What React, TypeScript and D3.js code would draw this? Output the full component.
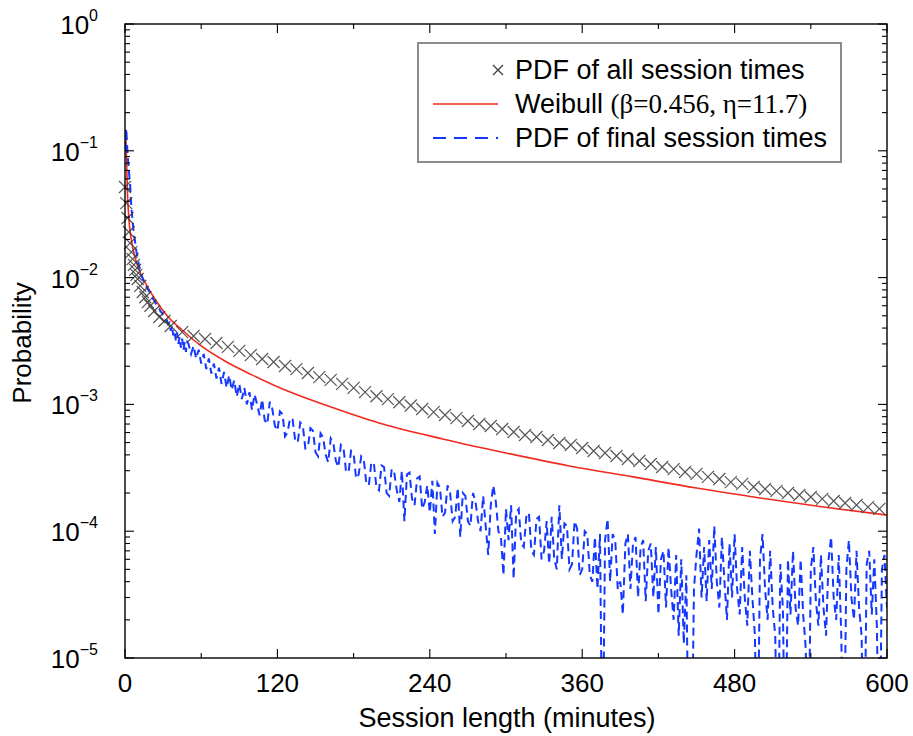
import React from 'react';
import * as d3 from 'd3';

// ---------- data ----------
const xTickValues = [0, 120, 240, 360, 480, 600];
const xMinorTickValues = [60, 180, 300, 420, 540];
const yDecadeExponents = [0, -1, -2, -3, -4, -5];

// PDF of all session times (black crosses)
const allMinutes = [0, 1, 2, 3, 4, 5, 6, 7, 8, 9, 10, 12, 14, 16, 18, 20, 23, 27, 31, 36,
  45, 54, 63, 72, 81, 90, 99, 108, 117, 126, 135, 144, 153, 162, 171, 180, 189, 198, 207, 216,
  225, 234, 243, 252, 261, 270, 279, 288, 297, 306, 315, 324, 333, 342, 351, 360, 369, 378, 387,
  396, 405, 414, 423, 432, 441, 450, 459, 468, 477, 486, 495, 504, 513, 522, 531, 540, 549, 558,
  567, 576, 585, 594];
const allPdf = [0.0518, 0.0387, 0.0295, 0.0229, 0.0187, 0.0159, 0.0140, 0.0126, 0.0115, 0.0105,
  0.00975, 0.0086, 0.0077, 0.0070, 0.0064, 0.0060, 0.00545, 0.00489, 0.00455, 0.00415,
  0.00372, 0.00346, 0.00328, 0.00305, 0.00284, 0.00264, 0.00245, 0.00228, 0.00216, 0.00201,
  0.00190, 0.00177, 0.00164, 0.00156, 0.00145, 0.00135, 0.00125, 0.00116, 0.00110, 0.00104,
  0.00098, 0.00092, 0.00087, 0.000825, 0.00078, 0.00074, 0.00070,
  0.000676, 0.00064, 0.000606, 0.000574, 0.000553, 0.000524, 0.000496, 0.000478, 0.000453,
  0.000429, 0.000414, 0.000392, 0.000371, 0.000358, 0.000339, 0.000321, 0.000309, 0.000293,
  0.000283, 0.000268, 0.000258, 0.000244, 0.000236, 0.000223, 0.000215, 0.000208, 0.000200,
  0.000193, 0.000186, 0.000180, 0.000173, 0.000167, 0.000161, 0.000155, 0.000150];

// Weibull fit (red line)
const weibullMinutes = [0.5, 1, 2, 3, 5, 8, 12, 16, 24, 34, 45, 60, 80, 100, 130, 160, 200, 250,
  300, 350, 400, 450, 500, 550, 600];
const weibullPdf = [0.14, 0.1, 0.0448, 0.0295, 0.0198, 0.0143, 0.0109, 0.00907, 0.00666, 0.00489,
  0.00386, 0.00289, 0.00216, 0.00171, 0.00125, 0.00097, 0.000713, 0.000534, 0.000414, 0.000327,
  0.000268, 0.000219, 0.000183, 0.000155, 0.000134];

// PDF of final session times (blue dashed), minutes 0..49 every minute
const finalEarlyPdf = [0.10, 0.15, 0.095, 0.07, 0.055, 0.036, 0.028, 0.022, 0.019, 0.016,
  0.0142, 0.0125, 0.0114, 0.0105, 0.0098, 0.0092, 0.0088, 0.0084, 0.0081, 0.0078,
  0.0075, 0.0072, 0.0068, 0.0066, 0.0063, 0.0061, 0.0058, 0.0057, 0.0054, 0.0053,
  0.0050, 0.0049, 0.0046, 0.0046, 0.0043, 0.0044, 0.0038, 0.0042, 0.0035, 0.0038,
  0.0032, 0.0037, 0.0030, 0.0034, 0.0028, 0.0033, 0.0027, 0.0031, 0.0026, 0.0031];
// minutes 50..600 every 2 minutes, in units of 1e-4 (0 = empty bin)
const finalLatePdfE4 = [
  // 50-98
  30, 25, 29, 23, 27, 21, 25, 19, 23, 17.5,
  21, 16, 19.5, 14.5, 18, 13.5, 17, 13, 15.5, 11.5,
  14.5, 11, 13.5, 10, 12.5,
  // 100-200
  9.0, 12, 10, 8.2, 11, 7.5, 7.0, 10.5, 9.2, 6.8,
  6.2, 8.8, 8.4, 5.6, 6.0, 7.8, 7.6, 5.2, 5.0, 7.2,
  6.8, 4.5, 4.6, 6.5, 6.2, 4.2, 3.9, 5.9, 5.5, 4.0,
  3.5, 5.4, 5.0, 3.6, 3.2, 4.8, 4.6, 3.0, 2.9, 4.3,
  4.1, 2.6, 2.8, 3.9, 3.7, 2.4, 2.3, 3.5, 3.4, 2.2,
  2.1,
  // 202-300
  3.3, 3.2, 2.0, 1.9, 3.1, 2.9, 2.1, 1.7, 3.0, 1.2,
  2.8, 2.9, 1.8, 1.6, 2.6, 2.7, 1.5, 1.7, 2.3, 1.4,
  2.5, 0.95, 2.4, 2.2, 1.3, 1.4, 2.3, 2.0, 1.2, 1.3,
  2.2, 0.9, 2.0, 1.9, 1.2, 1.1, 2.0, 1.7, 1.2, 1.0,
  1.9, 1.1, 0.65, 1.6, 2.3, 1.7, 1.0, 0.9, 0.45, 1.5,
  // 302-400
  0.85, 1.6, 0.42, 1.4, 1.5, 0.8, 0.75, 1.3, 1.4, 0.7,
  0.65, 1.25, 1.3, 0.6, 0.7, 1.2, 0.55, 1.3, 0.6, 0.5,
  1.6, 0.6, 1.15, 1.1, 0.5, 0.55, 1.2, 1.05, 0.45, 0.5,
  1.0, 0.95, 0.45, 0.4, 0.9, 0.35, 0.95, 0, 0.85, 1.25,
  0.4, 0.95, 0.85, 0.35, 0.4, 0.22, 0.8, 0.95, 0.35, 0.8,
  // 402-500
  0.9, 0.3, 0.75, 0.85, 0.28, 0.7, 0.8, 0.3, 0.75, 0.22,
  0.6, 0.7, 0.25, 0.75, 0.35, 0.2, 0.65, 0.15, 0.6, 0.13,
  0.45, 0, 0, 0.35, 0.65, 1.05, 0.3, 0.75, 0.28, 0.85,
  0.35, 1.1, 0.4, 0.25, 0.9, 0.4, 0.2, 0.8, 0.3, 0.95,
  0.35, 0.22, 0.75, 0.3, 0.18, 0.7, 0.3, 0.15, 0, 0.6,
  // 502-600
  0.95, 0.35, 0.2, 0.7, 0.25, 0.15, 0, 0.55, 0.25, 0,
  0.6, 0.22, 0.7, 0.25, 0.18, 0.6, 0.22, 0.12, 0, 0.5,
  0.75, 0.28, 0.18, 0.65, 0.25, 0.15, 0.6, 0.9, 0.3, 0.2,
  0.65, 0.15, 0, 0.5, 0.85, 0.3, 0.2, 0.7, 0.25, 0.15,
  0, 0.55, 0.7, 0.22, 0.6, 0.18, 0, 0.5, 0.65, 0.25];

const legendLabels = ['PDF of all session times', 'Weibull ', '(β=0.456, η=11.7)', 'PDF of final session times'];

// ---------- layout ----------
const W = 913;
const H = 736;
const L = 125, T = 24, R = 887, B = 658;
const SANS = "'Liberation Sans', Arial, Helvetica, sans-serif";
const SERIF = "'Liberation Serif', 'Times New Roman', serif";
const BLUE = '#1438ff';
const RED = '#f02a1e';
const CROSS = '#3a3a3a';

export default function App() {
  const x = d3.scaleLinear().domain([0, 600]).range([L, R]);
  const y = d3.scaleLog().domain([1e-5, 1]).range([B, T]);
  const yv = (p: number) => (p > 0 ? y(p) : y(1e-6));

  const earlyMinutes = d3.range(0, finalEarlyPdf.length);
  const lateMinutes = d3.range(50, 601, 2);
  const finalPts: [number, number][] = [];
  earlyMinutes.forEach((m, i) => finalPts.push([m, finalEarlyPdf[i]]));
  const nLate = Math.min(lateMinutes.length, finalLatePdfE4.length);
  for (let i = 0; i < nLate; i++) finalPts.push([lateMinutes[i], finalLatePdfE4[i] * 1e-4]);

  const blueLine = d3.line<[number, number]>().x(d => x(d[0])).y(d => yv(d[1]));
  const redPts: [number, number][] = weibullMinutes.map((m, i) => [m, weibullPdf[i]]);
  const redLine = d3.line<[number, number]>().x(d => x(d[0])).y(d => y(d[1])).curve(d3.curveMonotoneX);

  const cs = 6;
  const crossPath = (cx: number, cy: number, s: number = cs) =>
    `M${cx - s},${cy - s}L${cx + s},${cy + s}M${cx - s},${cy + s}L${cx + s},${cy - s}`;

  const majorY = yDecadeExponents.map(e => Math.pow(10, e));
  const minorY: number[] = [];
  for (let e = -5; e < 0; e++) for (let m = 2; m <= 9; m++) minorY.push(m * Math.pow(10, e));

  const tickStroke = { stroke: '#000', strokeWidth: 1.1 };

  return (
    <svg width={W} height={H} style={{ position: 'absolute', left: 0, top: 0, background: '#fff' }}>
      <defs>
        <clipPath id="plotclip">
          <rect x={L} y={T} width={R - L} height={B - T} />
        </clipPath>
      </defs>
      <rect x={0} y={0} width={W} height={H} fill="#fff" />

      <g clipPath="url(#plotclip)">
        <path d={redLine(redPts) || ''} fill="none" stroke={RED} strokeWidth={1.6} />
        <path d={blueLine(finalPts) || ''} fill="none" stroke={BLUE} strokeWidth={2}
          strokeDasharray="8,5" />
      </g>
      <g>
        {allMinutes.map((m, i) => (
          <path key={i} d={crossPath(x(m), y(allPdf[i]))} stroke={CROSS} strokeWidth={1.2} fill="none" opacity={0.85} />
        ))}
      </g>

      <rect x={L} y={T} width={R - L} height={B - T} fill="none" stroke="#000" strokeWidth={1.4} />

      {majorY.map((v, i) => (
        <g key={'ym' + i}>
          <line x1={L} x2={L + 9} y1={y(v)} y2={y(v)} {...tickStroke} />
          <line x1={R} x2={R - 9} y1={y(v)} y2={y(v)} {...tickStroke} />
        </g>
      ))}
      {minorY.map((v, i) => (
        <g key={'yn' + i}>
          <line x1={L} x2={L + 5} y1={y(v)} y2={y(v)} {...tickStroke} />
          <line x1={R} x2={R - 5} y1={y(v)} y2={y(v)} {...tickStroke} />
        </g>
      ))}
      {xTickValues.map((v, i) => (
        <g key={'xm' + i}>
          <line x1={x(v)} x2={x(v)} y1={B} y2={B - 9} {...tickStroke} />
          <line x1={x(v)} x2={x(v)} y1={T} y2={T + 9} {...tickStroke} />
        </g>
      ))}
      {xMinorTickValues.map((v, i) => (
        <g key={'xn' + i}>
          <line x1={x(v)} x2={x(v)} y1={B} y2={B - 5} {...tickStroke} />
          <line x1={x(v)} x2={x(v)} y1={T} y2={T + 5} {...tickStroke} />
        </g>
      ))}

      {yDecadeExponents.map((e, i) => (
        <text key={'yl' + i} x={98} y={y(Math.pow(10, e)) + 10} textAnchor="end"
          fontFamily={SANS} fontSize={26} fill="#000">
          10<tspan fontSize={16} dy={-13}>{e === 0 ? '0' : '\u2212' + Math.abs(e)}</tspan>
        </text>
      ))}
      {xTickValues.map((v, i) => (
        <text key={'xl' + i} x={x(v)} y={692} textAnchor="middle" fontFamily={SANS} fontSize={26} fill="#000">
          {v}
        </text>
      ))}

      <text x={507} y={727} textAnchor="middle" fontFamily={SANS} fontSize={27} fill="#000">
        Session length (minutes)
      </text>
      <text transform={`translate(31,343) rotate(-90)`} textAnchor="middle" fontFamily={SANS} fontSize={26} fill="#000">
        Probability
      </text>

      <rect x={418} y={43} width={423} height={119} fill="#fff" stroke="#8c8c8c" strokeWidth={2} />
      <path d={crossPath(498, 70, 5)} stroke={CROSS} strokeWidth={1.2} fill="none" />
      <text x={515} y={79} fontFamily={SANS} fontSize={27} fill="#000">{legendLabels[0]}</text>
      <line x1={433} x2={498} y1={104} y2={104} stroke={RED} strokeWidth={1.6} />
      <text x={515} y={113} fontFamily={SANS} fontSize={27} fill="#000">
        {legendLabels[1]}<tspan fontFamily={SERIF} fontSize={27}>{legendLabels[2]}</tspan>
      </text>
      <line x1={433} x2={498} y1={138} y2={138} stroke={BLUE} strokeWidth={1.8} strokeDasharray="13,8" />
      <text x={515} y={147} fontFamily={SANS} fontSize={27} fill="#000">{legendLabels[3]}</text>
    </svg>
  );
}
